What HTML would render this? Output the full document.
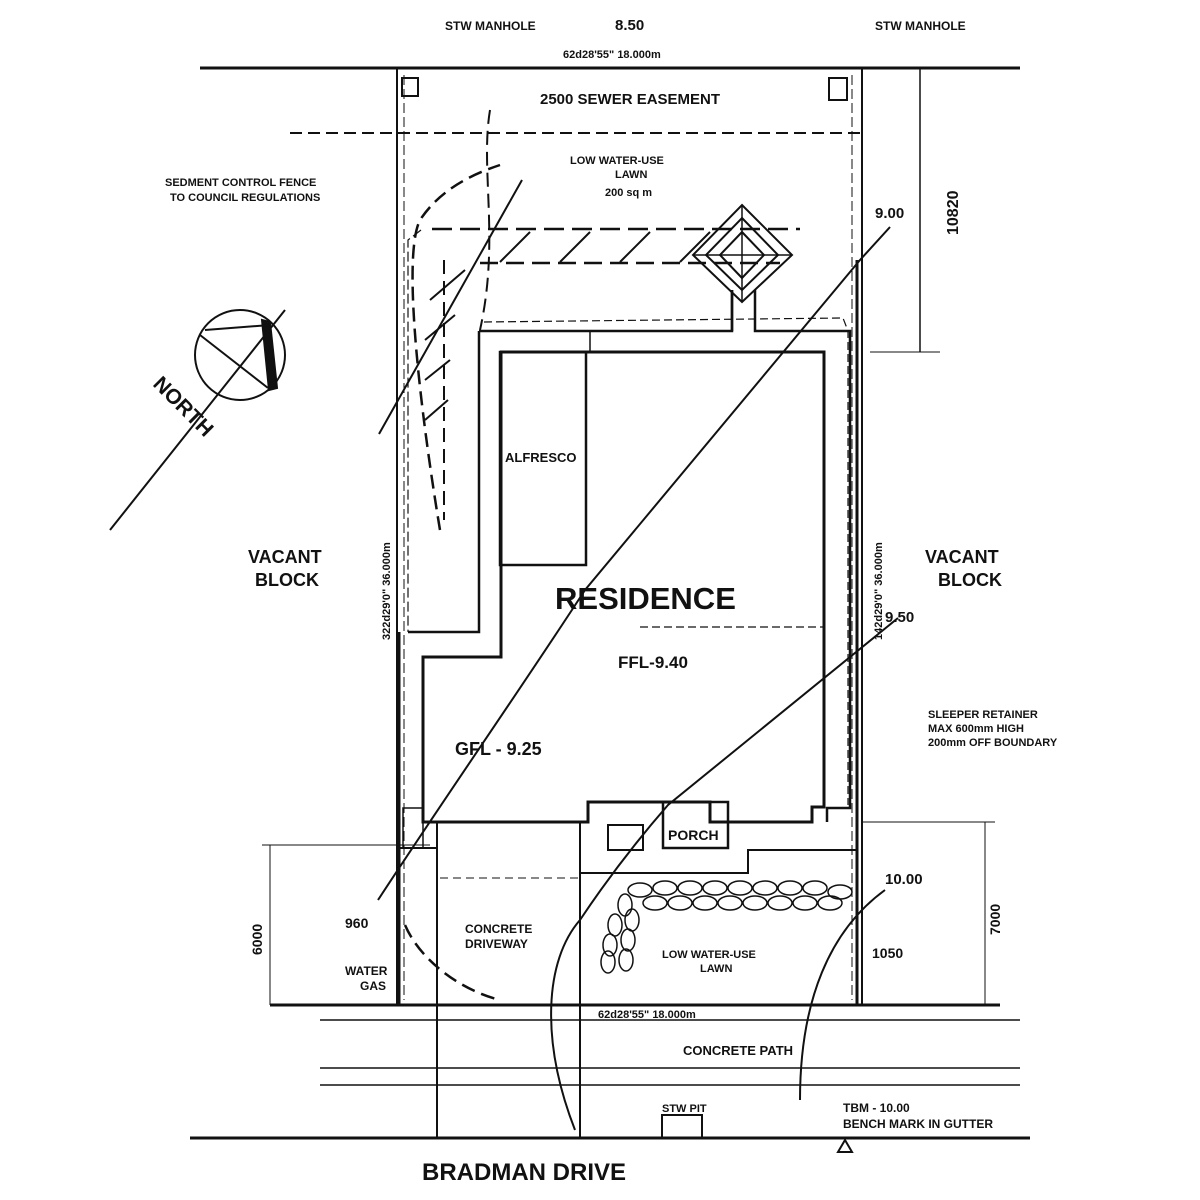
<!DOCTYPE html>
<html><head><meta charset="utf-8"><style>
html,body{margin:0;padding:0;background:#fff;width:1200px;height:1200px;overflow:hidden}
svg text{font-family:"Liberation Sans",sans-serif;font-weight:bold;fill:#111}
</style></head><body>
<svg width="1200" height="1200" viewBox="0 0 1200 1200" xmlns="http://www.w3.org/2000/svg">
<g stroke="#111" fill="none" stroke-width="2">
<line x1="200" y1="68" x2="1020" y2="68" stroke-width="3"/>
<line x1="397" y1="68" x2="397" y2="1005"/>
<line x1="862" y1="68" x2="862" y2="1005"/>
<line x1="399" y1="632" x2="399" y2="1005" stroke-width="3"/>
<line x1="857" y1="260" x2="857" y2="1005" stroke-width="3"/>
<line x1="404" y1="75" x2="404" y2="1000" stroke-dasharray="10 4" stroke-width="1"/>
<line x1="852" y1="75" x2="852" y2="1000" stroke-dasharray="10 4" stroke-width="1"/>
<rect x="402" y="78" width="16" height="18"/>
<rect x="829" y="78" width="18" height="22"/>
<line x1="290" y1="133" x2="862" y2="133" stroke-dasharray="12 6"/>
<line x1="870" y1="68" x2="940" y2="68" stroke-width="1"/>
<line x1="920" y1="68" x2="920" y2="352" stroke-width="1.5"/>
<line x1="870" y1="352" x2="940" y2="352" stroke-width="1"/>
<line x1="270" y1="1005" x2="1000" y2="1005" stroke-width="3"/>
<line x1="320" y1="1020" x2="1020" y2="1020" stroke-width="1.5"/>
<line x1="320" y1="1068" x2="1020" y2="1068" stroke-width="1.5"/>
<line x1="320" y1="1085" x2="1020" y2="1085" stroke-width="1.5"/>
<line x1="190" y1="1138" x2="1030" y2="1138" stroke-width="3"/>
<line x1="437" y1="822" x2="437" y2="1138"/>
<line x1="580" y1="822" x2="580" y2="1138"/>
<rect x="662" y="1115" width="40" height="23"/>
<line x1="270" y1="845" x2="270" y2="1005" stroke-width="1"/>
<line x1="262" y1="845" x2="430" y2="845" stroke-width="1"/>
<line x1="985" y1="822" x2="985" y2="1005" stroke-width="1"/>
<line x1="862" y1="822" x2="995" y2="822" stroke-width="1"/>
<!-- residence -->
<polyline points="479,331 732,331 732,290 M755,290" stroke-width="2.5"/>
<polyline points="755,290 755,331 850,331 850,808 827,808 827,822" stroke-width="2.5"/>
<line x1="732" y1="290" x2="732" y2="331" stroke-width="2.5"/>
<polyline points="479,331 479,632 408,632" stroke-width="2.5"/>
<polyline points="500,352 824,352 824,807 812,807 812,822 710,822 710,802 588,802 588,822 423,822 423,657 501,657 501,352" stroke-width="3"/>
<rect x="500" y="352" width="86" height="213" stroke-width="2.5"/>
<line x1="590" y1="331" x2="590" y2="352" stroke-width="1.5"/>
<rect x="663" y="802" width="65" height="46" stroke-width="2.5"/>
<rect x="608" y="825" width="35" height="25" stroke-width="2"/>
<polyline points="580,873 748,873 748,850 857,850" stroke-width="2"/>
<line x1="399" y1="848" x2="437" y2="848" stroke-width="2"/>
<rect x="403" y="808" width="20" height="40" stroke-width="1.5"/>
<polyline points="484,322 843,318 848,331 848,805" stroke-dasharray="8 4" stroke-width="1.2"/>
<line x1="640" y1="627" x2="824" y2="627" stroke-dasharray="8 4" stroke-width="1.2"/>
<line x1="440" y1="878" x2="580" y2="878" stroke-dasharray="8 5" stroke-width="1"/>
<polyline points="421,230 408,240 408,632" stroke-dasharray="10 4" stroke-width="1.2"/>
<!-- diagonals -->
<line x1="379" y1="434" x2="522" y2="180" stroke-width="2"/>
<path d="M378,900 C450,790 520,690 585,590 L860,260 L890,227" stroke-width="2"/>
<path d="M575,1130 C540,1040 545,960 580,920 Q620,860 668,805 L898,618" stroke-width="2"/>
<path d="M800,1100 C800,1000 830,930 885,890" stroke-width="2"/>
<line x1="110" y1="530" x2="285" y2="310" stroke-width="2"/>
<!-- fences / lawn edge -->
<path d="M440,530 C425,440 400,260 420,220 C440,190 470,175 500,165" stroke-dasharray="14 7" stroke-width="2.5"/>
<path d="M490,110 C480,170 500,240 480,330" stroke-dasharray="14 7" stroke-width="2"/>
<line x1="444" y1="260" x2="444" y2="520" stroke-dasharray="14 7" stroke-width="2"/>
<path d="M432,229 L800,229" stroke-dasharray="20 8" stroke-width="2.5"/>
<path d="M480,263 L780,263" stroke-dasharray="18 8" stroke-width="2.5"/>
<path d="M500,262 L530,232 M560,262 L590,232 M620,262 L650,232 M680,262 L710,232 M430,300 L465,270 M425,340 L455,315 M425,380 L450,360 M425,420 L448,400" stroke-width="2"/>
<path d="M405,925 C420,960 460,990 500,1000" stroke-dasharray="14 7" stroke-width="2.5"/>
<!-- drain -->
<polygon points="742,205 792,255 742,302 693,255"/>
<polygon points="742,218 778,255 742,290 706,255"/>
<polygon points="742,232 764,255 742,278 720,255"/>
<line x1="742" y1="205" x2="742" y2="302" stroke-width="1.5"/>
<line x1="693" y1="255" x2="792" y2="255" stroke-width="1.5"/>
<!-- north -->
<circle cx="240" cy="355" r="45"/>
<polygon points="262,320 270,322 277,388 269,390" fill="#111"/>
<line x1="205" y1="330" x2="270" y2="325"/>
<line x1="200" y1="335" x2="268" y2="388"/>
<g stroke-width="1.5">
<ellipse cx="640" cy="890" rx="12" ry="7"/><ellipse cx="665" cy="888" rx="12" ry="7"/><ellipse cx="690" cy="888" rx="12" ry="7"/><ellipse cx="715" cy="888" rx="12" ry="7"/><ellipse cx="740" cy="888" rx="12" ry="7"/><ellipse cx="765" cy="888" rx="12" ry="7"/><ellipse cx="790" cy="888" rx="12" ry="7"/><ellipse cx="815" cy="888" rx="12" ry="7"/><ellipse cx="840" cy="892" rx="12" ry="7"/>
<ellipse cx="655" cy="903" rx="12" ry="7"/><ellipse cx="680" cy="903" rx="12" ry="7"/><ellipse cx="705" cy="903" rx="12" ry="7"/><ellipse cx="730" cy="903" rx="12" ry="7"/><ellipse cx="755" cy="903" rx="12" ry="7"/><ellipse cx="780" cy="903" rx="12" ry="7"/><ellipse cx="805" cy="903" rx="12" ry="7"/><ellipse cx="830" cy="903" rx="12" ry="7"/>
<ellipse cx="625" cy="905" rx="7" ry="11"/><ellipse cx="615" cy="925" rx="7" ry="11"/><ellipse cx="610" cy="945" rx="7" ry="11"/><ellipse cx="608" cy="962" rx="7" ry="11"/><ellipse cx="632" cy="920" rx="7" ry="11"/><ellipse cx="628" cy="940" rx="7" ry="11"/><ellipse cx="626" cy="960" rx="7" ry="11"/>
</g>
<polygon points="845,1140 852,1152 838,1152"/>
</g>
<g font-size="13">
<text x="445" y="30" font-size="12">STW MANHOLE</text>
<text x="875" y="30" font-size="12">STW MANHOLE</text>
<text x="615" y="30" font-size="15" font-weight="normal">8.50</text>
<text x="563" y="58" font-size="11">62d28'55" 18.000m</text>
<text x="540" y="104" font-size="15">2500 SEWER EASEMENT</text>
<text x="165" y="186" font-size="11">SEDMENT CONTROL FENCE</text>
<text x="170" y="201" font-size="11">TO COUNCIL REGULATIONS</text>
<text x="570" y="164" font-size="11" font-weight="normal">LOW WATER-USE</text>
<text x="615" y="178" font-size="11" font-weight="normal">LAWN</text>
<text x="605" y="196" font-size="11" font-weight="normal">200 sq m</text>
<text x="875" y="218" font-size="15" font-weight="normal">9.00</text>
<text x="505" y="462">ALFRESCO</text>
<text x="555" y="609" font-size="31">RESIDENCE</text>
<text x="618" y="668" font-size="17">FFL-9.40</text>
<text x="455" y="755" font-size="18">GFL - 9.25</text>
<text x="248" y="563" font-size="18">VACANT</text>
<text x="255" y="586" font-size="18">BLOCK</text>
<text x="925" y="563" font-size="18">VACANT</text>
<text x="938" y="586" font-size="18">BLOCK</text>
<text x="885" y="622" font-size="15" font-weight="normal">9.50</text>
<text x="928" y="718" font-size="11">SLEEPER RETAINER</text>
<text x="928" y="732" font-size="11">MAX 600mm HIGH</text>
<text x="928" y="746" font-size="11">200mm OFF BOUNDARY</text>
<text x="668" y="840" font-size="14">PORCH</text>
<text x="465" y="933" font-size="12">CONCRETE</text>
<text x="465" y="948" font-size="12">DRIVEWAY</text>
<text x="662" y="958" font-size="11" font-weight="normal">LOW WATER-USE</text>
<text x="700" y="972" font-size="11" font-weight="normal">LAWN</text>
<text x="885" y="884" font-size="15" font-weight="normal">10.00</text>
<text x="872" y="958" font-size="14" font-weight="normal">1050</text>
<text x="345" y="928" font-size="14" font-weight="normal">960</text>
<text x="345" y="975" font-size="12">WATER</text>
<text x="360" y="990" font-size="12">GAS</text>
<text x="598" y="1018" font-size="11">62d28'55" 18.000m</text>
<text x="683" y="1055" font-size="13">CONCRETE PATH</text>
<text x="662" y="1112" font-size="11">STW PIT</text>
<text x="843" y="1112" font-size="12">TBM - 10.00</text>
<text x="843" y="1128" font-size="12">BENCH MARK IN GUTTER</text>
<text x="422" y="1180" font-size="24">BRADMAN DRIVE</text>
<text transform="translate(262,955) rotate(-90)" font-size="14" font-weight="normal">6000</text>
<text transform="translate(1000,935) rotate(-90)" font-size="14" font-weight="normal">7000</text>
<text transform="translate(958,235) rotate(-90)" font-size="16" font-weight="normal">10820</text>
<text transform="translate(390,640) rotate(-90)" font-size="11">322d29'0" 36.000m</text>
<text transform="translate(882,640) rotate(-90)" font-size="11">142d29'0" 36.000m</text>
<text transform="translate(152,385) rotate(45)" font-size="21">NORTH</text>
</g>
</svg>
</body></html>
